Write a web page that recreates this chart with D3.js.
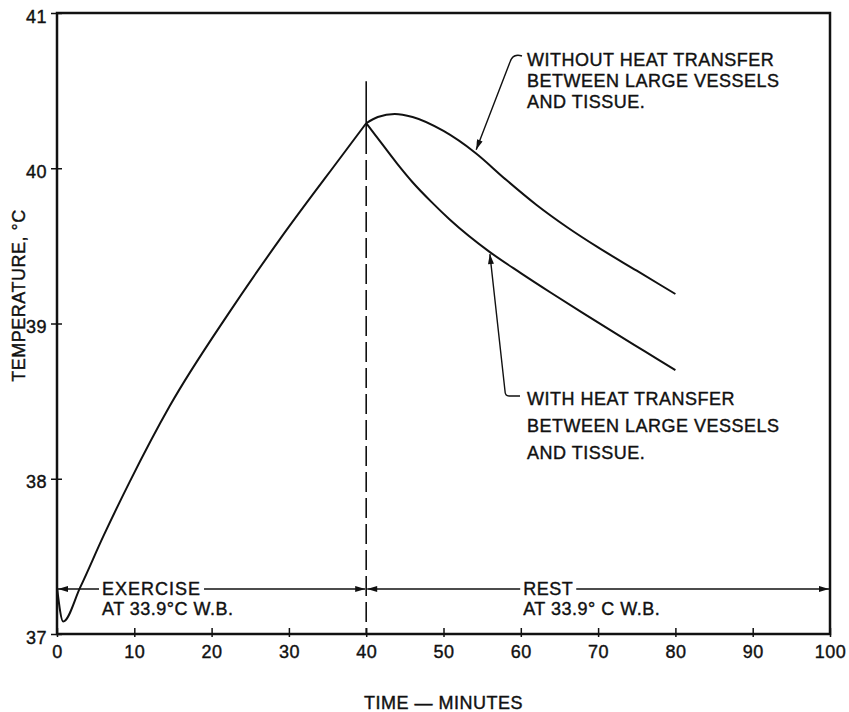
<!DOCTYPE html>
<html>
<head>
<meta charset="utf-8">
<script src="https://cdn.jsdelivr.net/npm/d3@7"></script>
<style>
  html, body { margin: 0; padding: 0; background: #fff; }
  svg text { font-family: "Liberation Sans", Arial, sans-serif; fill: #111; stroke: #111; stroke-width: 0.4px; letter-spacing: 0.5px; }
</style>
</head>
<body>
<div id="chart"></div>
<script>
// ---- data ----
const xTicks = [0, 10, 20, 30, 40, 50, 60, 70, 80, 90, 100];
const yTicks = [37, 38, 39, 40, 41];

// exercise phase (0 - 40 min)
const riseTime = [0, 0.8, 3, 6, 9.4, 14.6, 22.4, 28.8, 37, 40];
const riseTemp = [37.30, 37.08, 37.30, 37.63, 37.98, 38.47, 39.08, 39.54, 40.09, 40.29];

// rest phase, without heat transfer between large vessels and tissue
const withoutTime = [40, 41.5, 43.7, 46, 50, 54.1, 58, 62, 66, 70, 75, 80];
const withoutTemp = [40.29, 40.33, 40.35, 40.33, 40.24, 40.10, 39.93, 39.765, 39.62, 39.49, 39.34, 39.19];

// rest phase, with heat transfer
const withTime = [40, 42, 44, 46, 48.5, 50.8, 56, 60, 64, 68, 72, 76, 80];
const withTemp = [40.29, 40.16, 40.03, 39.91, 39.78, 39.67, 39.46, 39.325, 39.195, 39.068, 38.944, 38.822, 38.70];

const upperNote = ["WITHOUT HEAT TRANSFER", "BETWEEN LARGE VESSELS", "AND TISSUE."];
const lowerNote = ["WITH HEAT TRANSFER", "BETWEEN LARGE VESSELS", "AND TISSUE."];
const phaseLabels = [["EXERCISE", "AT 33.9°C W.B."], ["REST", "AT 33.9° C W.B."]];
const phaseTemp = 37.29;     // level of the phase arrows
const switchTime = 40;       // exercise -> rest
const markerTop = 40.56;     // top of the vertical line at 40 min
const upperTip = 54.1;       // where the arrows touch the curves
const lowerTip = 56;

// ---- canvas ----
const W = 849, H = 712;
const svg = d3.select("#chart").append("svg")
    .attr("width", W).attr("height", H);

const x = d3.scaleLinear().domain([0, 100]).range([57, 830]);
const y = d3.scaleLinear().domain([37, 41]).range([634, 13]);

const defs = svg.append("defs");
defs.append("marker")
    .attr("id", "arrow")
    .attr("viewBox", "0 0 10 6")
    .attr("refX", 10).attr("refY", 3)
    .attr("markerWidth", 11).attr("markerHeight", 6)
    .attr("markerUnits", "userSpaceOnUse")
    .attr("orient", "auto-start-reverse")
    .append("path").attr("d", "M0,0 L10,3 L0,6 z").attr("fill", "#111");

// frame
svg.append("rect")
    .attr("x", x(0)).attr("y", y(41))
    .attr("width", x(100) - x(0)).attr("height", y(37) - y(41))
    .attr("fill", "none").attr("stroke", "#111").attr("stroke-width", 2.5);

// x axis
const gx = svg.append("g")
    .attr("transform", `translate(0,${y(37)})`)
    .call(d3.axisBottom(x).tickValues(xTicks).tickSize(3).tickPadding(8).tickFormat(d3.format("d")));
gx.select(".domain").remove();
gx.selectAll(".tick line").attr("y1", -6).attr("y2", 3).attr("stroke", "#111").attr("stroke-width", 1.5);
gx.selectAll(".tick text").style("font-size", "18px");

// y axis
const gy = svg.append("g")
    .attr("transform", `translate(${x(0)},0)`)
    .call(d3.axisLeft(y).tickValues(yTicks).tickSize(6).tickPadding(4).tickFormat(d3.format("d")));
gy.select(".domain").remove();
gy.selectAll(".tick line").attr("x1", -6).attr("x2", 5).attr("stroke", "#111").attr("stroke-width", 1.5);
gy.selectAll(".tick text").style("font-size", "18px").attr("dy", "0.5em");

// axis titles
svg.append("text")
    .attr("transform", `translate(25,${(y(37) + y(41)) / 2 - 28}) rotate(-90)`)
    .attr("text-anchor", "middle")
    .style("font-size", "18px")
    .text("TEMPERATURE, °C");

svg.append("text")
    .attr("x", x(50)).attr("y", 709)
    .attr("text-anchor", "middle")
    .style("font-size", "18px")
    .text("TIME — MINUTES");

// vertical line at switch time: solid above the peak, dashed below
svg.append("line")
    .attr("x1", x(switchTime)).attr("x2", x(switchTime))
    .attr("y1", y(markerTop)).attr("y2", y(40.22))
    .attr("stroke", "#111").attr("stroke-width", 1.6);
svg.append("line")
    .attr("x1", x(switchTime)).attr("x2", x(switchTime))
    .attr("y1", y(40.22)).attr("y2", y(37))
    .attr("stroke", "#111").attr("stroke-width", 1.6)
    .attr("stroke-dasharray", "20,6");

// curves
const line = d3.line()
    .x(d => x(d[0])).y(d => y(d[1]))
    .curve(d3.curveMonotoneX);

const series = [
    d3.zip(riseTime, riseTemp),
    d3.zip(withoutTime, withoutTemp),
    d3.zip(withTime, withTemp)
];
svg.selectAll(".curve")
    .data(series)
    .enter().append("path")
    .attr("class", "curve")
    .attr("d", line)
    .attr("fill", "none")
    .attr("stroke", "#111")
    .attr("stroke-width", 2);

// phase arrows with labels
const py = y(phaseTemp);
const phases = [[0, switchTime], [switchTime, 100]];
phases.forEach((p, i) => {
    const x0 = x(p[0]), x1 = x(p[1]);
    const tx = i === 0 ? x0 + 45 : x0 + 157;
    const label = svg.append("text")
        .attr("x", tx).attr("y", py + 6)
        .style("font-size", "18px")
        .style("letter-spacing", i === 0 ? "1px" : "0.5px")
        .text(phaseLabels[i][0]);
    const len = label.node().getComputedTextLength();
    svg.append("text")
        .attr("x", tx).attr("y", py + 26)
        .style("font-size", "18px")
        .text(phaseLabels[i][1]);
    svg.append("line")
        .attr("x1", tx - 3).attr("x2", x0 + 1)
        .attr("y1", py).attr("y2", py)
        .attr("stroke", "#111").attr("stroke-width", 1.5)
        .attr("marker-end", "url(#arrow)");
    svg.append("line")
        .attr("x1", tx + len + 3).attr("x2", x1 - 1)
        .attr("y1", py).attr("y2", py)
        .attr("stroke", "#111").attr("stroke-width", 1.5)
        .attr("marker-end", "url(#arrow)");
});

// annotations
const drawNote = (lines, tx, ty, gap) => {
    svg.append("g").selectAll("text")
        .data(lines).enter().append("text")
        .attr("x", tx).attr("y", (d, i) => ty + i * gap)
        .style("font-size", "18px")
        .text(d => d);
};
drawNote(upperNote, 527, 66, 21);
drawNote(lowerNote, 527, 405, 27);

// leader to the "without" curve
const ux = x(upperTip), uy = y(withoutTemp[5]);
svg.append("path")
    .attr("d", `M522,56 Q513,53 510,62 L${ux + 1},${uy - 3}`)
    .attr("fill", "none").attr("stroke", "#111").attr("stroke-width", 1.4)
    .attr("marker-end", "url(#arrow)");

// leader to the "with" curve
const lx = x(lowerTip), ly = y(withTemp[6]);
svg.append("path")
    .attr("d", `M520,396 L509,396 Q505,396 505,391 L${lx},${ly + 2}`)
    .attr("fill", "none").attr("stroke", "#111").attr("stroke-width", 1.4)
    .attr("marker-end", "url(#arrow)");
</script>
</body>
</html>
